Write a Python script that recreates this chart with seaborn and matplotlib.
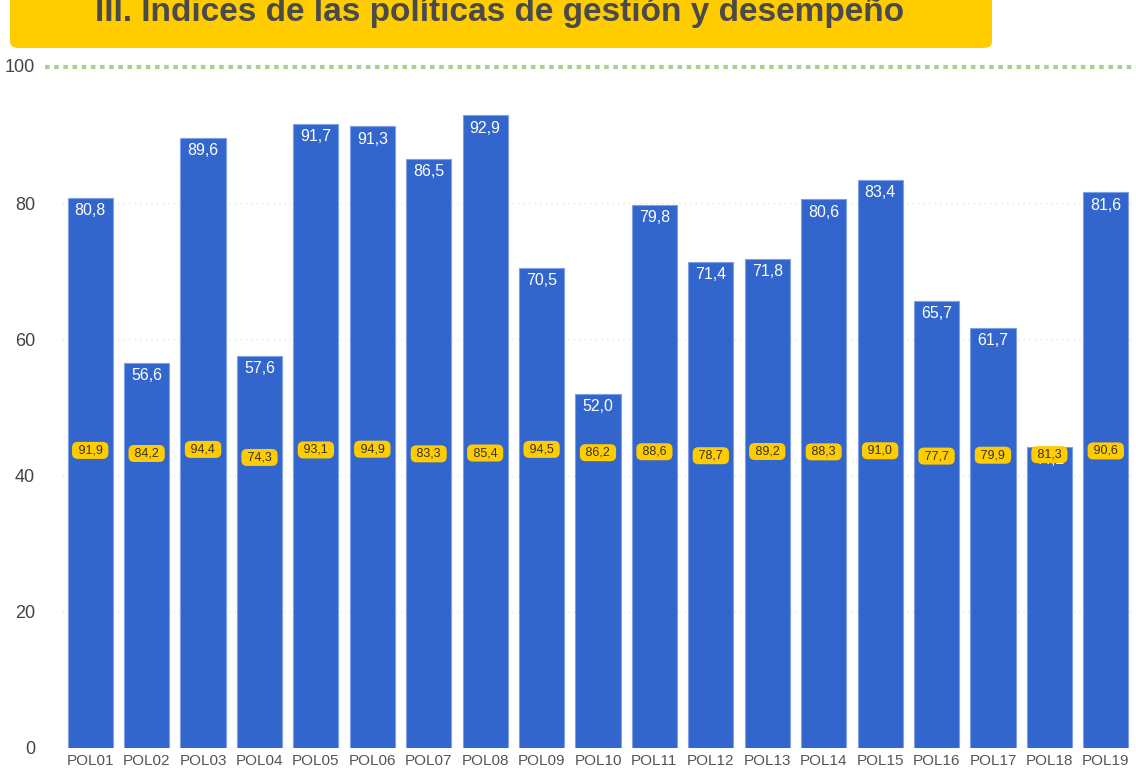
import numpy as np
import seaborn as sns
import matplotlib.pyplot as plt
from matplotlib.patches import FancyBboxPatch

# Data
politicas = ['POL01', 'POL02', 'POL03', 'POL04', 'POL05', 'POL06', 'POL07', 'POL08',
             'POL09', 'POL10', 'POL11', 'POL12', 'POL13', 'POL14', 'POL15', 'POL16',
             'POL17', 'POL18', 'POL19']
indice = [80.8, 56.6, 89.6, 57.6, 91.7, 91.3, 86.5, 92.9, 70.5, 52.0,
          79.8, 71.4, 71.8, 80.6, 83.4, 65.7, 61.7, 44.2, 81.6]
referencia = [91.9, 84.2, 94.4, 74.3, 93.1, 94.9, 83.3, 85.4, 94.5, 86.2,
              88.6, 78.7, 89.2, 88.3, 91.0, 77.7, 79.9, 81.3, 90.6]

AZUL = '#3366CC'
AMARILLO = '#FFCC00'

sns.set_style('white')
plt.rcParams['font.family'] = ['Liberation Sans', 'DejaVu Sans']

fig = plt.figure(figsize=(11.36, 7.74), dpi=100)
ax = fig.add_axes([62 / 1136, 26 / 774, 1072 / 1136, 681 / 774])

sns.barplot(x=politicas, y=indice, color=AZUL, width=0.8, saturation=1,
            edgecolor='#7f9fe6', linewidth=0.8, ax=ax, zorder=2)

ax.set_ylim(0, 100)
ax.set_yticks([0, 20, 40, 60, 80])
ax.set_xlabel('')
ax.set_ylabel('')
for y in [0, 20, 40, 60, 80]:
    ax.axhline(y, color='#e6e6e6', lw=1, ls=(0, (1, 3)), zorder=0)
ax.axhline(100, xmin=-0.016, xmax=1.01, color='#a9d18e', lw=3,
           ls=(0, (1.1, 1.1)), clip_on=False, zorder=1)
ax.tick_params(axis='y', labelsize=13, labelcolor='#444444', length=0, pad=19.5)
ax.tick_params(axis='x', labelsize=11, labelcolor='#555555', length=0, pad=4)
ax.text(-0.0252, 100, '100', transform=ax.get_yaxis_transform(), ha='right',
        va='center', fontsize=13, color='#444444')
sns.despine(ax=ax, left=True, bottom=True, top=True, right=True)

# white value labels inside the bars
for i, v in enumerate(indice):
    ax.text(i, v - 1.9, f'{v:.1f}'.replace('.', ','), ha='center', va='center',
            color='white', fontsize=11.5, zorder=3)

# reference values on a secondary scale, shown as yellow tags
ax2 = ax.twinx()
ax2.set_ylim(-651, 1049)
ax2.scatter(range(len(referencia)), referencia, s=0)
for i, r in enumerate(referencia):
    ax2.text(i, r, ' ' + f'{r:.1f}'.replace('.', ',') + ' ', ha='center', va='center',
             fontsize=9, color='#333333', zorder=5,
             bbox=dict(boxstyle='round,pad=0.2,rounding_size=0.45',
                       fc=AMARILLO, ec='none'))
ax2.set_yticks([])
for s in ax2.spines.values():
    s.set_visible(False)
ax.set_xlim(-0.5, len(politicas) - 0.5)

# title banner
banner = FancyBboxPatch((10 / 1136, 1 - 48 / 774), 982 / 1136, 80 / 774,
                        boxstyle='round,pad=0,rounding_size=0.008',
                        transform=fig.transFigure, fc=AMARILLO, ec='none')
fig.patches.append(banner)
fig.text(500 / 1136, 1 - 10 / 774, 'III. Índices de las políticas de gestión y desempeño',
         ha='center', va='center', fontsize=24, fontweight='bold', color='#4a4a4a')

plt.savefig('out.png', dpi=100)
